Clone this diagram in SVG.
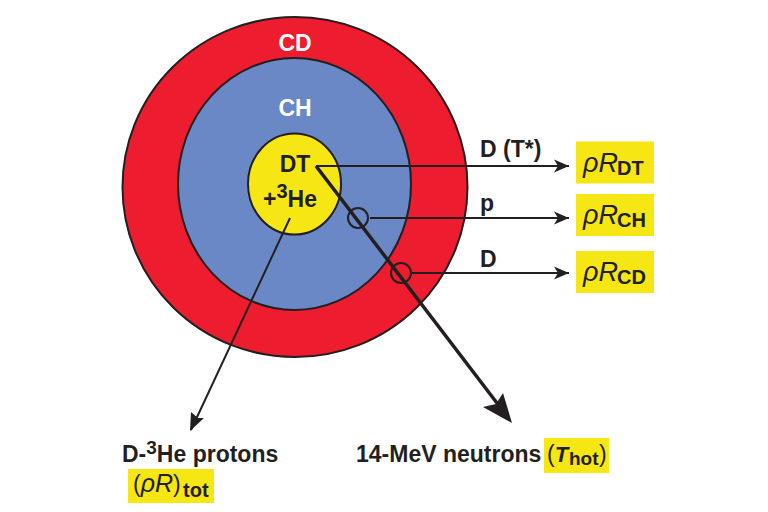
<svg xmlns="http://www.w3.org/2000/svg" width="768" height="512" viewBox="0 0 768 512">
<style>
text{font-family:"Liberation Sans",Arial,sans-serif;font-weight:bold;fill:#231f20;font-size:23px}
.w{fill:#fff}
.i{font-style:italic;font-size:27px;font-weight:normal}
.sb{font-size:20px}
.hl{fill:#f5e614}
.ring{stroke:#231f20;stroke-width:2}
.l{stroke:#231f20;stroke-width:2;fill:none}
</style>
<defs>
<marker id="a" markerUnits="userSpaceOnUse" markerWidth="16" markerHeight="14" refX="15" refY="7" orient="auto"><path d="M0 0.500L15 7L0 13.500L4 7Z" fill="#231f20"/></marker>
</defs>
<g id="node-cd"><ellipse class="ring" cx="295" cy="187" rx="172.500" ry="170" fill="#ed1c2e"/><text class="w" x="295" y="51" text-anchor="middle">CD</text></g>
<g id="node-ch"><ellipse class="ring" cx="294.500" cy="184" rx="116.500" ry="126" fill="#6a88c6"/><text class="w" x="295" y="116" text-anchor="middle">CH</text></g>
<g id="node-dt"><ellipse class="ring" cx="294.500" cy="184" rx="46.500" ry="50.500" fill="#f5e614"/><text x="295" y="172" text-anchor="middle" font-size="24">DT</text><text x="263" y="207" font-size="24">+<tspan font-size="20" dy="-9">3</tspan><tspan dy="9">He</tspan></text></g>
<g id="connectors">
<path class="l" d="M316 166H569" marker-end="url(#a)"/>
<path class="l" d="M370 218H569" marker-end="url(#a)"/>
<path class="l" d="M412 273H569" marker-end="url(#a)"/>
<path class="l" d="M290 218L191 430"/>
<path d="M190 431L191 412L198 418L204 418Z" fill="#231f20"/>
<path d="M316 166L500 407" stroke="#231f20" stroke-width="3.500" fill="none"/>
<path d="M512 423L483 407L496 404L503 393Z" fill="#231f20"/>
<circle class="l" cx="358" cy="218" r="10"/>
<circle class="l" cx="401" cy="273" r="10"/>
</g>
<g id="label-d-t"><text x="480" y="157">D (T*)</text></g>
<g id="label-p"><text x="480" y="211">p</text></g>
<g id="label-d"><text x="480" y="267">D</text></g>
<g id="node-rrdt"><rect class="hl" x="576" y="141.500" width="78" height="42"/><text x="583" y="172"><tspan class="i">ρR</tspan><tspan class="sb" x="617" dy="3">DT</tspan></text></g>
<g id="node-rrch"><rect class="hl" x="576" y="194" width="78" height="42"/><text x="583" y="224"><tspan class="i">ρR</tspan><tspan class="sb" x="617" dy="3">CH</tspan></text></g>
<g id="node-rrcd"><rect class="hl" x="576" y="251" width="78" height="42"/><text x="583" y="281"><tspan class="i">ρR</tspan><tspan class="sb" x="617" dy="3">CD</tspan></text></g>
<g id="node-protons"><rect class="hl" x="128" y="469" width="86" height="34"/><text x="122" y="462">D-<tspan font-size="19" dy="-8">3</tspan><tspan dy="8">He protons</tspan></text><text x="133" y="492" font-size="24"><tspan font-weight="normal">(</tspan><tspan font-style="italic" font-weight="normal" font-size="25">ρR</tspan><tspan font-weight="normal">)</tspan><tspan class="sb" x="183" dy="5">tot</tspan></text></g>
<g id="node-neutrons"><rect class="hl" x="544" y="438" width="65" height="35"/><text x="356" y="462">14-MeV neutrons</text><text x="547" y="462"><tspan font-weight="normal">(</tspan><tspan font-style="italic" font-size="22">T</tspan><tspan x="569" font-size="19" dy="3">hot</tspan><tspan x="599" dy="-3" font-weight="normal">)</tspan></text></g>
</svg>
